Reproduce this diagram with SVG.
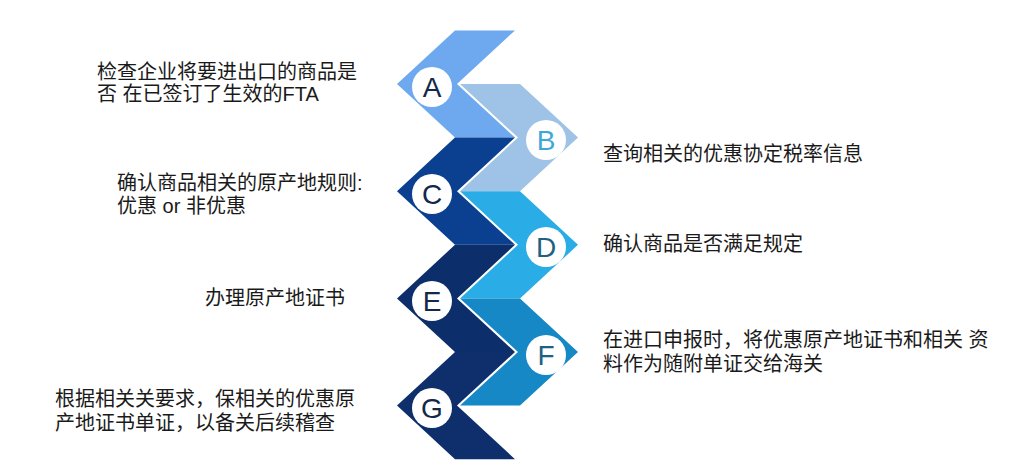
<svg xmlns="http://www.w3.org/2000/svg" width="1018" height="467" viewBox="0 0 1018 467">
<style>
.lbl{font-family:"Liberation Sans","Noto Sans CJK SC",sans-serif;font-size:20px;fill:#1a1a1a}
.let{font-family:"Liberation Sans",Arial,sans-serif;font-size:28px;text-anchor:middle}
.dark{fill:#14284a}
.circ{fill:#ffffff}
</style>
<rect width="1018" height="467" fill="#ffffff"/>
<g id="connectors"></g>
<g id="nodeA">
<polygon points="455,30.4 397,84 455,137.6 515,137.6 457,84 515,30.4" fill="#6ea9ef"/>
<circle class="circ" cx="432" cy="87" r="20"/>
<text class="let dark" x="432" y="97">A</text>
<text class="lbl" x="97" y="79">检查企业将要进出口的商品是</text>
<text class="lbl" x="97" y="101">否 在已签订了生效的FTA</text>
</g>
<g id="nodeC">
<polygon points="455,137.6 397,191.2 455,244.8 515,244.8 457,191.2 515,137.6" fill="#0b3f8f"/>
<circle class="circ" cx="432" cy="194" r="20"/>
<text class="let dark" x="432" y="204">C</text>
<text class="lbl" x="117" y="189.5">确认商品相关的原产地规则:</text>
<text class="lbl" x="117" y="212.5">优惠 or 非优惠</text>
</g>
<g id="nodeE">
<polygon points="455,244.8 397,298.4 455,352 515,352 457,298.4 515,244.8" fill="#0c2e6a"/>
<circle class="circ" cx="432" cy="301" r="20"/>
<text class="let dark" x="432" y="311">E</text>
<text class="lbl" x="205" y="304.5">办理原产地证书</text>
</g>
<g id="nodeG">
<polygon points="455,352 397,405.6 455,459.2 515,459.2 457,405.6 515,352" fill="#0e2f6b"/>
<circle class="circ" cx="432" cy="408" r="20"/>
<text class="let dark" x="432" y="418">G</text>
<text class="lbl" x="55" y="405.5">根据相关关要求，保相关的优惠原</text>
<text class="lbl" x="55" y="429.5">产地证书单证，以备关后续稽查</text>
</g>
<g id="nodeB">
<polygon points="520,84 578,137.6 520,191.2 460,191.2 518,137.6 460,84" fill="#9fc2e7"/>
<circle class="circ" cx="546" cy="140" r="20"/>
<text class="let" x="546" y="150" fill="#3ea7d9">B</text>
<text class="lbl" x="603" y="160.5">查询相关的优惠协定税率信息</text>
</g>
<g id="nodeD">
<polygon points="520,191.2 578,244.8 520,298.4 460,298.4 518,244.8 460,191.2" fill="#2aade6"/>
<circle class="circ" cx="546" cy="247" r="20"/>
<text class="let" x="546" y="257" fill="#1d6283">D</text>
<text class="lbl" x="603" y="250.5">确认商品是否满足规定</text>
</g>
<g id="nodeF">
<polygon points="520,298.4 578,352 520,405.6 460,405.6 518,352 460,298.4" fill="#1788c6"/>
<circle class="circ" cx="546" cy="355" r="20"/>
<text class="let" x="546" y="365" fill="#1d6283">F</text>
<text class="lbl" x="603" y="346.5">在进口申报时，将优惠原产地证书和相关 资</text>
<text class="lbl" x="603" y="370.5">料作为随附单证交给海关</text>
</g>
</svg>
